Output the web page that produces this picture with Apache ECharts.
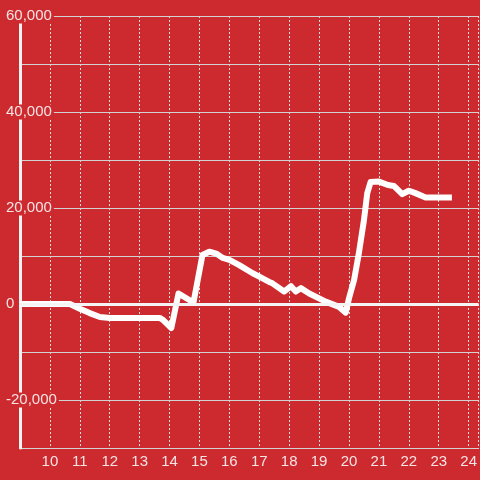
<!DOCTYPE html>
<html><head><meta charset="utf-8">
<script src="https://cdn.jsdelivr.net/npm/echarts@6/dist/echarts.min.js"></script>
<style>html,body{margin:0;padding:0;background:#cc2a2f}#c{width:480px;height:480px}</style>
</head><body><div id="c"></div>
<script>
var hours = [9.0, 10.67, 11.0, 11.33, 11.67, 12.0, 13.67, 13.78, 14.06, 14.3, 14.8, 15.1, 15.33, 15.56, 15.78, 16.0, 16.33, 16.78, 17.0, 17.33, 17.44, 17.83, 18.06, 18.22, 18.39, 18.67, 19.22, 19.67, 19.89, 20.0, 20.17, 20.33, 20.5, 20.61, 20.72, 21.0, 21.3, 21.5, 21.78, 22.0, 22.22, 22.56, 23.44];
var values = [0, 0, -1000, -1900, -2700, -2900, -2900, -3300, -5000, 2200, 300, 10200, 10900, 10500, 9600, 9200, 8100, 6400, 5700, 4600, 4300, 2600, 3700, 2600, 3300, 2200, 500, -600, -1800, 1200, 5000, 10600, 17500, 23100, 25400, 25500, 24800, 24600, 22900, 23600, 23100, 22200, 22200];
var yLabelValues = [-20000, 0, 20000, 40000, 60000];

var bg = '#cc2a2f';
var data = hours.map(function (h, i) { return [h, values[i]]; });
function fmt(v) { return String(v).replace(/\B(?=(\d{3})+(?!\d))/g, ','); }

var chart = echarts.init(document.getElementById('c'), null, {renderer: 'canvas'});
chart.setOption({
  backgroundColor: bg,
  animation: false,
  grid: {left: 20, right: 0, top: 16, bottom: 32, containLabel: false},
  xAxis: {
    type: 'value', min: 9, max: 24 + 1/3, interval: 1, z: 0,
    axisLine: {onZero: false, lineStyle: {color: '#d0d0d0', width: 1}},
    axisTick: {show: false},
    axisLabel: {showMinLabel: false, showMaxLabel: false, color: '#f6e4e4', fontSize: 15, fontFamily: 'Liberation Sans, Arial, sans-serif', margin: 6,
      formatter: function (v) { return (Math.abs(v - Math.round(v)) < 1e-6 && v > 9) ? String(Math.round(v)) : ''; }},
    splitLine: {show: true, lineStyle: {color: '#e8dede', width: 1, type: [2, 2]}}
  },
  yAxis: [{
    type: 'value', min: -30000, max: 60000, interval: 10000, z: 1,
    axisLine: {show: true, onZero: false, lineStyle: {color: '#f2f2f2', width: 3}},
    axisTick: {show: false},
    axisLabel: {show: false},
    splitLine: {show: true, lineStyle: {color: '#d2d2d2', width: 1}}
  }, {
    type: 'value', min: -30000, max: 60000, interval: 10000, z: 10, position: 'left',
    axisLine: {show: false}, axisTick: {show: false}, splitLine: {show: false},
    axisLabel: {
      show: true, align: 'left', margin: 16,
      formatter: function (v) { return yLabelValues.indexOf(v) >= 0 ? '{a|' + fmt(v) + '}' : ''; },
      rich: {a: {color: '#f6e4e4', fontSize: 15, fontFamily: 'Liberation Sans, Arial, sans-serif', backgroundColor: bg, padding: [0, 2, 0, 2], lineHeight: 16}}
    }
  }],
  series: [{
    type: 'line', data: data, yAxisIndex: 0, showSymbol: false, symbol: 'none', z: 3,
    lineStyle: {color: '#ffffff', width: 6, join: 'round', cap: 'butt'},
    markLine: {symbol: 'none', silent: true, label: {show: false},
      lineStyle: {color: '#f4f4f4', width: 3, type: 'solid'}, data: [{yAxis: 0}]}
  }]
});
</script></body></html>
